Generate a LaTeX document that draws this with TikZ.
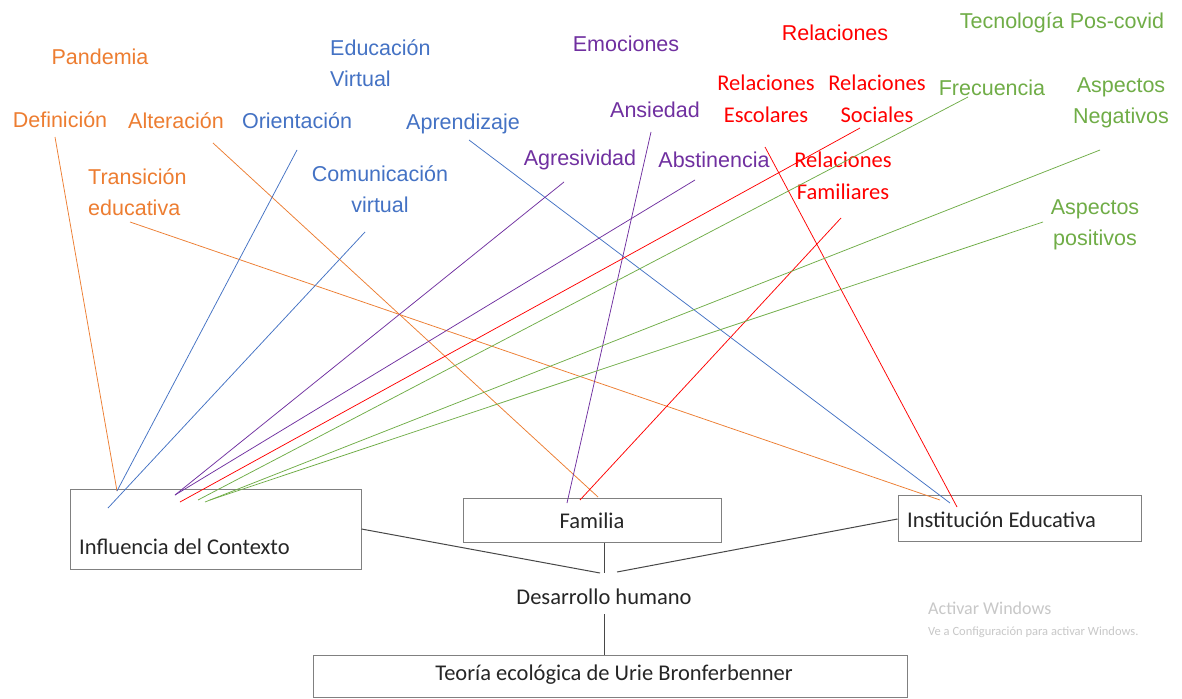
\documentclass[tikz,border=0pt]{standalone}
\usepackage{fontspec}
\setmainfont{Liberation Sans}
\newfontfamily\carl{Carlito}
\definecolor{cor}{HTML}{ED7D31}
\definecolor{cbl}{HTML}{4472C4}
\definecolor{cpu}{HTML}{7030A0}
\definecolor{cre}{HTML}{FF0000}
\definecolor{cgr}{HTML}{70AD47}
\definecolor{cbox}{HTML}{808080}
\definecolor{ctxt}{HTML}{262626}
\definecolor{cwm}{HTML}{C8C8C8}
\begin{document}
\begin{tikzpicture}[x=1pt,y=-1pt,
  lab/.style={inner sep=0pt, font=\fontsize{21.5}{31}\selectfont, align=center},
  clab/.style={inner sep=0pt, font=\carl\fontsize{22.5}{32}\selectfont, align=center},
  boxtxt/.style={inner sep=0pt, font=\carl\fontsize{22.5}{27}\selectfont, text=ctxt},
  box/.style={draw=cbox, line width=1pt, inner sep=0pt},
  con/.style={line width=0.75pt},
  blk/.style={draw=ctxt!85, line width=1pt}]
\useasboundingbox (0,0) rectangle (1182,698);
\fill[white] (0,0) rectangle (1182,698);

% ---- labels: orange
\node[lab, text=cor] (pan) at (100,57) {Pandemia};
\node[lab, text=cor] (def) at (60,120) {Definición};
\node[lab, text=cor] (alt) at (176,121) {Alteración};
\node[lab, text=cor, align=left, anchor=west] (tra) at (88,192) {Transición\\educativa};
% blue
\node[lab, text=cbl, align=left, anchor=west] (edu) at (330,63) {Educación\\Virtual};
\node[lab, text=cbl] (ori) at (297,121) {Orientación};
\node[lab, text=cbl] (com) at (380,189) {Comunicación\\virtual};
\node[lab, text=cbl] (apr) at (463,124) {Aprendizaje};
% purple
\node[lab, text=cpu] (emo) at (626,44) {Emociones};
\node[lab, text=cpu] (ans) at (655,110) {Ansiedad};
\node[lab, text=cpu] (agr) at (580,160) {Agresividad};
\node[lab, text=cpu] (abs) at (714,160) {Abstinencia};
% red
\node[lab, text=cre] (rel) at (835,33) {Relaciones};
\node[clab, text=cre] (esc) at (766,99) {Relaciones\\Escolares};
\node[clab, text=cre] (soc) at (877,99) {Relaciones\\Sociales};
\node[clab, text=cre] (fam) at (843,176) {Relaciones\\Familiares};
% green
\node[lab, text=cgr] (tec) at (1062,23) {Tecnología Pos-covid};
\node[lab, text=cgr] (fre) at (992,88) {Frecuencia};
\node[lab, text=cgr] (neg) at (1121,103) {Aspectos\\Negativos};
\node[lab, text=cgr] (pos) at (1095,225) {Aspectos\\positivos};

% ---- boxes
\node[box, minimum width=291pt, minimum height=80pt] (infl) at (215.5,529) {};
\node[boxtxt, anchor=west] (inflt) at (79,547) {Influencia del Contexto};
\node[box, minimum width=258pt, minimum height=44pt] (famb) at (592,520) {};
\node[boxtxt] (famt) at (592,521) {Familia};
\node[box, minimum width=243pt, minimum height=46pt] (inst) at (1019.5,518) {};
\node[boxtxt, anchor=west] (instt) at (907,520) {Institución Educativa};
\node[boxtxt] (desa) at (604,597) {Desarrollo humano};
\node[box, minimum width=594pt, minimum height=42pt] (teo) at (610,676) {};
\node[boxtxt] (teot) at (614,675) {Teoría ecológica de Urie Bronferbenner};

% watermark
\node[inner sep=0pt, anchor=west, text=cwm, font=\carl\fontsize{18}{20}\selectfont] (wm1) at (928,608) {Activar Windows};
\node[inner sep=0pt, anchor=west, text=cwm, font=\carl\fontsize{12.5}{14}\selectfont] (wm2) at (928,632) {Ve a Configuración para activar Windows.};

% ---- connector end points
\coordinate (defS) at (55,137);  \coordinate (defE) at (117,491);
\coordinate (altS) at (213,143); \coordinate (altE) at (598,497);
\coordinate (traS) at (130,222); \coordinate (traE) at (940,500);
\coordinate (oriS) at (297,150); \coordinate (oriE) at (117,491);
\coordinate (comS) at (365,232); \coordinate (comE) at (108,508);
\coordinate (aprS) at (469,140); \coordinate (aprE) at (950,503);
\coordinate (agrS) at (564,182); \coordinate (agrE) at (175,495);
\coordinate (absS) at (695,180); \coordinate (absE) at (175,495);
\coordinate (ansS) at (651,132); \coordinate (ansE) at (567,503);
\coordinate (escS) at (765,147); \coordinate (escE) at (957,507);
\coordinate (socS) at (860,128); \coordinate (socE) at (180,502);
\coordinate (famS) at (841,218); \coordinate (famE) at (580,500);
\coordinate (freS) at (968,97);  \coordinate (freE) at (198,500);
\coordinate (negS) at (1100,150);\coordinate (negE) at (205,502);
\coordinate (posS) at (1043,222);\coordinate (posE) at (210,500);

\draw[con, cor] (defS) -- (defE);
\draw[con, cor] (altS) -- (altE);
\draw[con, cor] (traS) -- (traE);
\draw[con, cbl] (oriS) -- (oriE);
\draw[con, cbl] (comS) -- (comE);
\draw[con, cbl] (aprS) -- (aprE);
\draw[con, cpu] (agrS) -- (agrE);
\draw[con, cpu] (absS) -- (absE);
\draw[con, cpu] (ansS) -- (ansE);
\draw[con, cre] (escS) -- (escE);
\draw[con, cre] (socS) -- (socE);
\draw[con, cre] (famS) -- (famE);
\draw[con, cgr] (freS) -- (freE);
\draw[con, cgr] (negS) -- (negE);
\draw[con, cgr] (posS) -- (posE);

% ---- black connectors
\coordinate (jL) at (600,573);
\coordinate (jM) at (604,573);
\coordinate (jR) at (617,572);
\coordinate (dS) at (604,614);
\draw[blk] (infl.east |- 0,529) -- (jL);
\draw[blk] (famb.south -| jM) -- (jM);
\draw[blk] (inst.west |- 0,519) -- (jR);
\draw[blk] (dS) -- (teo.north -| dS);
\end{tikzpicture}
\end{document}
